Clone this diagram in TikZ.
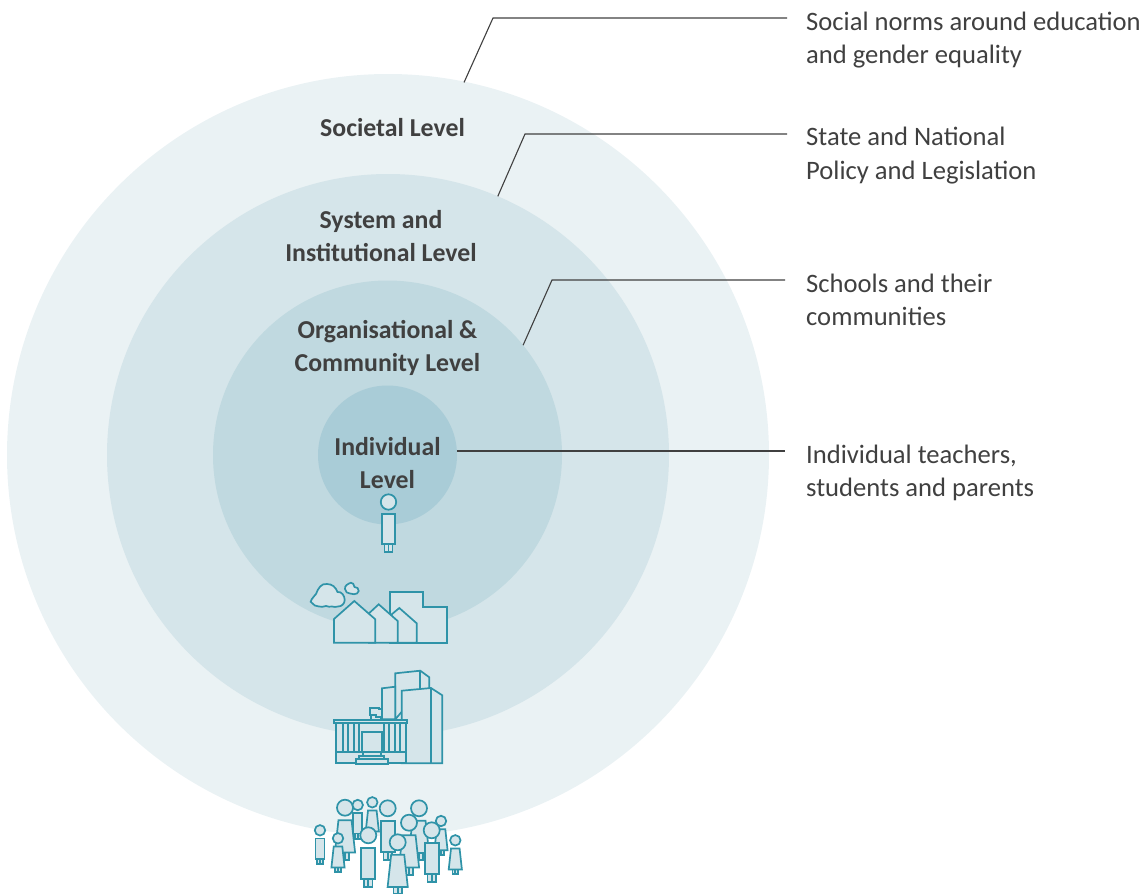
\documentclass[tikz,border=0pt]{standalone}
\usepackage{xcolor}
\usepackage{fontspec}
\setmainfont{Carlito}
\usepackage{tikz}
\usetikzlibrary{positioning, calc}
\definecolor{ringone}{HTML}{EAF2F4}
\definecolor{ringtwo}{HTML}{D5E5EA}
\definecolor{ringthree}{HTML}{C0D9E0}
\definecolor{ringfour}{HTML}{A9CCD7}
\definecolor{icongreen}{HTML}{2F93A8}
\definecolor{darktext}{HTML}{404040}
\tikzset{
	ring/.style={circle, inner sep=0pt, outer sep=0pt, fill=#1},
	levelname/.style={align=center, text=darktext, font=\fontsize{25.8}{33}\selectfont\bfseries},
	sidenote/.style={anchor=west, align=left, inner sep=0pt, text=darktext, font=\fontsize{26.6}{33.5}\selectfont},
	leader/.style={draw=darktext, line width=1.1pt},
	icon/.style={draw=icongreen, fill=ringtwo, line width=1.7pt, line join=miter},
	man/.pic={
		\draw[icon] (-4,42) rectangle (4,50);
		\draw[icon] (0,42) -- (0,50);
		\draw[icon] (-6.7,12) rectangle (6.7,42);
		\draw[icon] (0,0) circle [radius=7.7pt];
	},
	woman/.pic={
		\draw[icon] (-4,42) rectangle (4,50);
		\draw[icon] (0,42) -- (0,50);
		\draw[icon] (-6.3,12) -- (6.3,12) -- (9.7,43) -- (-9.7,43) -- cycle;
		\draw[icon] (0,0) circle [radius=7.7pt];
	}
}
\begin{document}
\begin{tikzpicture}[x=1pt, y=-1pt]
	\useasboundingbox (0,0) rectangle (1146,894);

	\node[ring=ringone, minimum size=762pt] (societalRing) at (388,455) {};
	\node[ring=ringtwo, minimum size=562pt] (systemRing) at (388,455) {};
	\node[ring=ringthree, minimum size=349pt] (communityRing) at (387.5,455) {};
	\node[ring=ringfour, minimum size=139pt] (individualRing) at (387.5,455) {};

	\node[levelname] (societalName) at (392.5,128) {Societal Level};
	\node[levelname] (systemName) at (381,236.5) {System and\\Institutional Level};
	\node[levelname] (communityName) at (387.5,347.5) {Organisational \&\\Community Level};
	\node[levelname] (individualName) at (387.5,463) {Individual\\Level};

	\node[sidenote] (normsNote) at (806,40) {Social norms around education\\and gender equality};
	\node[sidenote] (policyNote) at (806,155.5) {State and National\\Policy and Legislation};
	\node[sidenote] (schoolsNote) at (806,300) {Schools and their\\communities};
	\node[sidenote] (peopleNote) at (806,472.8) {Individual teachers,\\students and parents};

	\coordinate (normsStart) at (464,82.5);
	\coordinate (normsBend) at (493,18);
	\coordinate (normsEnd) at (787,18);
	\coordinate (policyBend) at (525,134);
	\coordinate (policyEnd) at (787,134);
	\coordinate (schoolsBend) at (552,280);
	\coordinate (schoolsEnd) at (785,280);
	\coordinate (peopleEnd) at (785,451);
	\draw[leader] (normsStart) -- (normsBend) -- (normsEnd);
	\draw[leader] (systemRing.67.5) -- (policyBend) -- (policyEnd);
	\draw[leader] (communityRing.39.2) -- (schoolsBend) -- (schoolsEnd);
	\draw[leader] (peopleEnd -| individualRing.3.3) -- (peopleEnd);

	% one person
	\pic at (388.5,502) {man};

	% houses
	\draw[icon] (312,603) to[out=170,in=230] (316,594) to[out=70,in=170] (327,584) to[out=0,in=110] (337.5,592) to[out=10,in=90] (344.7,600) to[out=-90,in=0] (338,606.5) to[out=190,in=-20] (332,606.5) to[out=200,in=-10] (326,606) to[out=190,in=-20] (319,606.5) to[out=170,in=-60] cycle;
	\draw[icon] (345,589) to[out=100,in=200] (351,582.7) to[out=20,in=110] (354.5,587) to[out=10,in=80] (358.7,591) to[out=-100,in=0] (354,594.2) to[out=180,in=-10] (350,593.5) to[out=190,in=-80] cycle;
	\draw[icon] (389.7,642.7) -- (389.7,592.3) -- (423.3,592.3) -- (423.3,607.3) -- (447,607.3) -- (447,642.7) -- cycle;
	\draw[icon] (391.7,642.7) -- (391.7,614.3) -- (399.3,608) -- (416.7,623.3) -- (416.7,642.7) -- cycle;
	\draw[icon] (369,642.7) -- (369,613.3) -- (378.7,604.3) -- (397.7,621) -- (397.7,642.7) -- cycle;
	\draw[icon] (334,642.7) -- (334,619) -- (354.3,601) -- (375.3,619.3) -- (375.3,642.7) -- cycle;

	% institution
	\draw[icon] (395.3,719.3) -- (395.3,673.3) -- (420.3,670.7) -- (429.3,677.3) -- (429.3,690) -- (420.3,690) -- cycle;
	\draw[icon] (420.3,670.7) -- (420.3,690);
	\draw[icon] (382,719.3) -- (382,688.3) -- (395.3,686.7) -- (395.3,719.3) -- cycle;
	\draw[icon] (401.7,763.3) -- (401.7,690.7) -- (431,688) -- (442.3,695.3) -- (442.3,763.3) -- cycle;
	\draw[icon] (431,688) -- (431,763.3);
	\draw[icon] (371,715) -- (371,719.7);
	\draw[icon] (381,717) -- (381,719.7);
	\draw[icon] (370,707.7) -- (379,707.7) -- (379,709.3) -- (381.7,709.3) -- (381.7,717.3) -- (376,717.3) -- (376,715) -- (370,715) -- cycle;
	\draw[icon] (336,723.3) rectangle (406,763.3);
	\draw[icon] (336,751.7) -- (406,751.7);
	\foreach \colx in {342.7,347.7,354.3,359.3,384,389,394.7,400}
		\draw[icon] (\colx,723.3) -- (\colx,751.7);
	\draw[icon] (334.3,719.7) rectangle (407.3,723.3);
	\draw[icon] (362,732.3) rectangle (381.7,751.7);
	\draw[icon] (362.7,751.7) rectangle (380.7,755.7);
	\draw[icon] (359.3,755.7) rectangle (384.3,759.3);
	\draw[icon] (355.7,759.3) rectangle (387.7,763.7);

	% crowd
	\pic[scale=1.04] at (345,807.7) {woman};
	\pic[scale=.68] at (357.7,805) {man};
	\pic[scale=.68] at (372.3,802.3) {woman};
	\pic[scale=1.04] at (387.7,808.3) {man};
	\pic[scale=1.04] at (419,808.3) {woman};
	\pic[scale=.68] at (441,821) {woman};
	\pic[scale=1.04] at (409,822.7) {woman};
	\pic[scale=1.04] at (431.7,830.3) {man};
	\pic[scale=1.04] at (368.3,835.3) {man};
	\pic[scale=1.04] at (397.7,842.3) {woman};
	\pic[scale=.68] at (320,830.3) {man};
	\pic[scale=.68] at (338,838.3) {woman};
	\pic[scale=.68] at (455.3,840.3) {woman};
\end{tikzpicture}
\end{document}
